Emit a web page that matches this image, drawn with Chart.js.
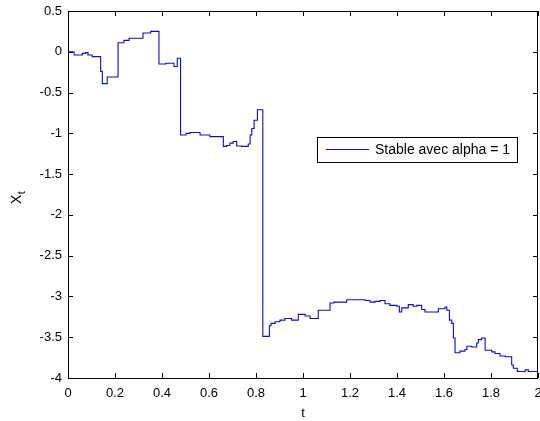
<!DOCTYPE html>
<html>
<head>
<meta charset="utf-8">
<script src="https://cdn.jsdelivr.net/npm/chart.js@4/dist/chart.umd.min.js"></script>
<style>
html,body{margin:0;padding:0;background:#fff;}
#wrap{width:540px;height:421px;}
</style>
</head>
<body>
<div id="wrap"><canvas id="c" width="540" height="421"></canvas></div>
<script>
// ---- data ----
const seriesLabel = 'Stable avec alpha = 1';
const tValues = [0, 0.026, 0.061, 0.075, 0.085, 0.103, 0.139, 0.146, 0.167, 0.213, 0.238, 0.26, 0.319, 0.352, 0.387, 0.416, 0.451, 0.465,
  0.479, 0.502, 0.519, 0.562, 0.604, 0.661, 0.675, 0.689, 0.703, 0.718, 0.739, 0.767, 0.775, 0.782, 0.792, 0.806,
  0.829, 0.857, 0.864, 0.881, 0.902, 0.923, 0.952, 0.98, 1.009, 1.03, 1.065, 1.115, 1.132, 1.186, 1.264, 1.285, 1.306, 1.328,
  1.349, 1.37, 1.399, 1.41, 1.42, 1.448, 1.469, 1.484, 1.505, 1.519, 1.562, 1.576, 1.604, 1.612, 1.623, 1.633, 1.64, 1.647,
  1.668, 1.689, 1.697, 1.718, 1.739, 1.746, 1.76, 1.775, 1.803, 1.817, 1.838, 1.86, 1.888, 1.895, 1.912, 1.945, 1.959, 2.0];
const xValues = [0.0, -0.04, -0.02, -0.01, -0.04, -0.06, -0.24, -0.39, -0.31, 0.11, 0.14, 0.165, 0.23, 0.25, -0.15, -0.14, -0.18, -0.08,
  -1.02, -1.0, -0.99, -1.02, -1.04, -1.16, -1.15, -1.12, -1.10, -1.155, -1.16, -1.13, -1.02, -0.94, -0.84, -0.71,
  -3.49, -3.36, -3.33, -3.31, -3.29, -3.27, -3.29, -3.22, -3.24, -3.27, -3.17, -3.08, -3.07, -3.04, -3.05, -3.07, -3.06, -3.05,
  -3.09, -3.11, -3.12, -3.19, -3.14, -3.10, -3.12, -3.11, -3.16, -3.19, -3.19, -3.15, -3.13, -3.17, -3.29, -3.33, -3.51, -3.69,
  -3.67, -3.65, -3.61, -3.62, -3.57, -3.53, -3.51, -3.66, -3.68, -3.70, -3.73, -3.74, -3.84, -3.88, -3.92, -3.90, -3.92, -3.92];
const xTicks = [0, 0.2, 0.4, 0.6, 0.8, 1, 1.2, 1.4, 1.6, 1.8, 2];
const yTicks = [-4, -3.5, -3, -2.5, -2, -1.5, -1, -0.5, 0, 0.5];
const xTitle = 't';
const yTitleMain = 'X';
const yTitleSub = 't';

const FONT = 'Arial, "Liberation Sans", Helvetica, sans-serif';
const LINE_COLOR = '#1010b0';

const boxPlugin = {
  id: 'matlabBox',
  afterDraw(chart) {
    const ctx = chart.ctx;
    const a = chart.chartArea;
    const xs = chart.scales.x, ys = chart.scales.y;
    ctx.save();
    ctx.strokeStyle = '#000';
    ctx.lineWidth = 1;
    ctx.beginPath();
    ctx.rect(Math.round(a.left) + 0.5, Math.round(a.top) + 0.5, Math.round(a.right - a.left) - 1, Math.round(a.bottom - a.top));
    ctx.stroke();
    const tl = 5;
    ctx.beginPath();
    xTicks.forEach(v => {
      const px = Math.round(xs.getPixelForValue(v)) + 0.5;
      ctx.moveTo(px, a.bottom); ctx.lineTo(px, a.bottom - tl);
      ctx.moveTo(px, a.top); ctx.lineTo(px, a.top + tl);
    });
    yTicks.forEach(v => {
      const py = Math.round(ys.getPixelForValue(v)) + 0.5;
      ctx.moveTo(a.left, py); ctx.lineTo(a.left + tl, py);
      ctx.moveTo(a.right, py); ctx.lineTo(a.right - tl, py);
    });
    ctx.stroke();

    // y title with subscript
    ctx.fillStyle = '#000';
    ctx.translate(21, 204);
    ctx.rotate(-Math.PI / 2);
    ctx.textAlign = 'left';
    ctx.textBaseline = 'alphabetic';
    ctx.font = '14px ' + FONT;
    ctx.fillText(yTitleMain, 0, 0);
    const w = ctx.measureText(yTitleMain).width;
    ctx.font = '11px ' + FONT;
    ctx.fillText(yTitleSub, w + 0.5, 4);
    ctx.restore();

    // legend box
    const ds = chart.data.datasets[0];
    ctx.save();
    const lx = 317, ly = 137, lw = 200, lh = 25;
    ctx.fillStyle = '#fff';
    ctx.fillRect(lx, ly, lw, lh);
    ctx.strokeStyle = '#000';
    ctx.lineWidth = 1;
    ctx.strokeRect(lx + 0.5, ly + 0.5, lw, lh);
    ctx.strokeStyle = ds.borderColor;
    ctx.beginPath();
    ctx.moveTo(326, ly + 12.5);
    ctx.lineTo(369, ly + 12.5);
    ctx.stroke();
    ctx.fillStyle = '#000';
    ctx.font = '14px ' + FONT;
    ctx.textBaseline = 'middle';
    ctx.textAlign = 'left';
    ctx.fillText(ds.label, 375, ly + 13.5);
    ctx.restore();
  }
};

const fmt = v => String(Math.round(v * 10) / 10);

new Chart(document.getElementById('c'), {
  type: 'line',
  data: {
    datasets: [{
      label: seriesLabel,
      data: tValues.map((t, i) => ({ x: t, y: xValues[i] })),
      stepped: true,
      borderColor: LINE_COLOR,
      borderWidth: 1.1,
      pointRadius: 0,
      fill: false,
      tension: 0
    }]
  },
  options: {
    responsive: false,
    animation: false,
    devicePixelRatio: 1,
    layout: { padding: { top: 11, right: 2, left: 0, bottom: 0 } },
    plugins: { legend: { display: false }, tooltip: { enabled: false } },
    scales: {
      x: {
        type: 'linear', min: 0, max: 2,
        afterBuildTicks: s => { s.ticks = xTicks.map(v => ({ value: v })); },
        afterFit: s => { s.height = 43; s.paddingLeft = 0; s.paddingRight = 0; },
        grid: { display: false, drawTicks: false },
        border: { display: false },
        ticks: { color: '#000', font: { family: FONT, size: 13 }, padding: 8, maxRotation: 0, autoSkip: false, callback: fmt },
        title: { display: true, text: xTitle, color: '#000', font: { family: FONT, size: 13 }, padding: 0 }
      },
      y: {
        type: 'linear', min: -4, max: 0.5,
        afterBuildTicks: s => { s.ticks = yTicks.map(v => ({ value: v })); },
        afterFit: s => { s.width = 68; s.paddingTop = 0; s.paddingBottom = 0; },
        grid: { display: false, drawTicks: false },
        border: { display: false },
        ticks: { color: '#000', font: { family: FONT, size: 13 }, padding: 6, autoSkip: false, callback: fmt }
      }
    }
  },
  plugins: [boxPlugin]
});
</script>
</body>
</html>
